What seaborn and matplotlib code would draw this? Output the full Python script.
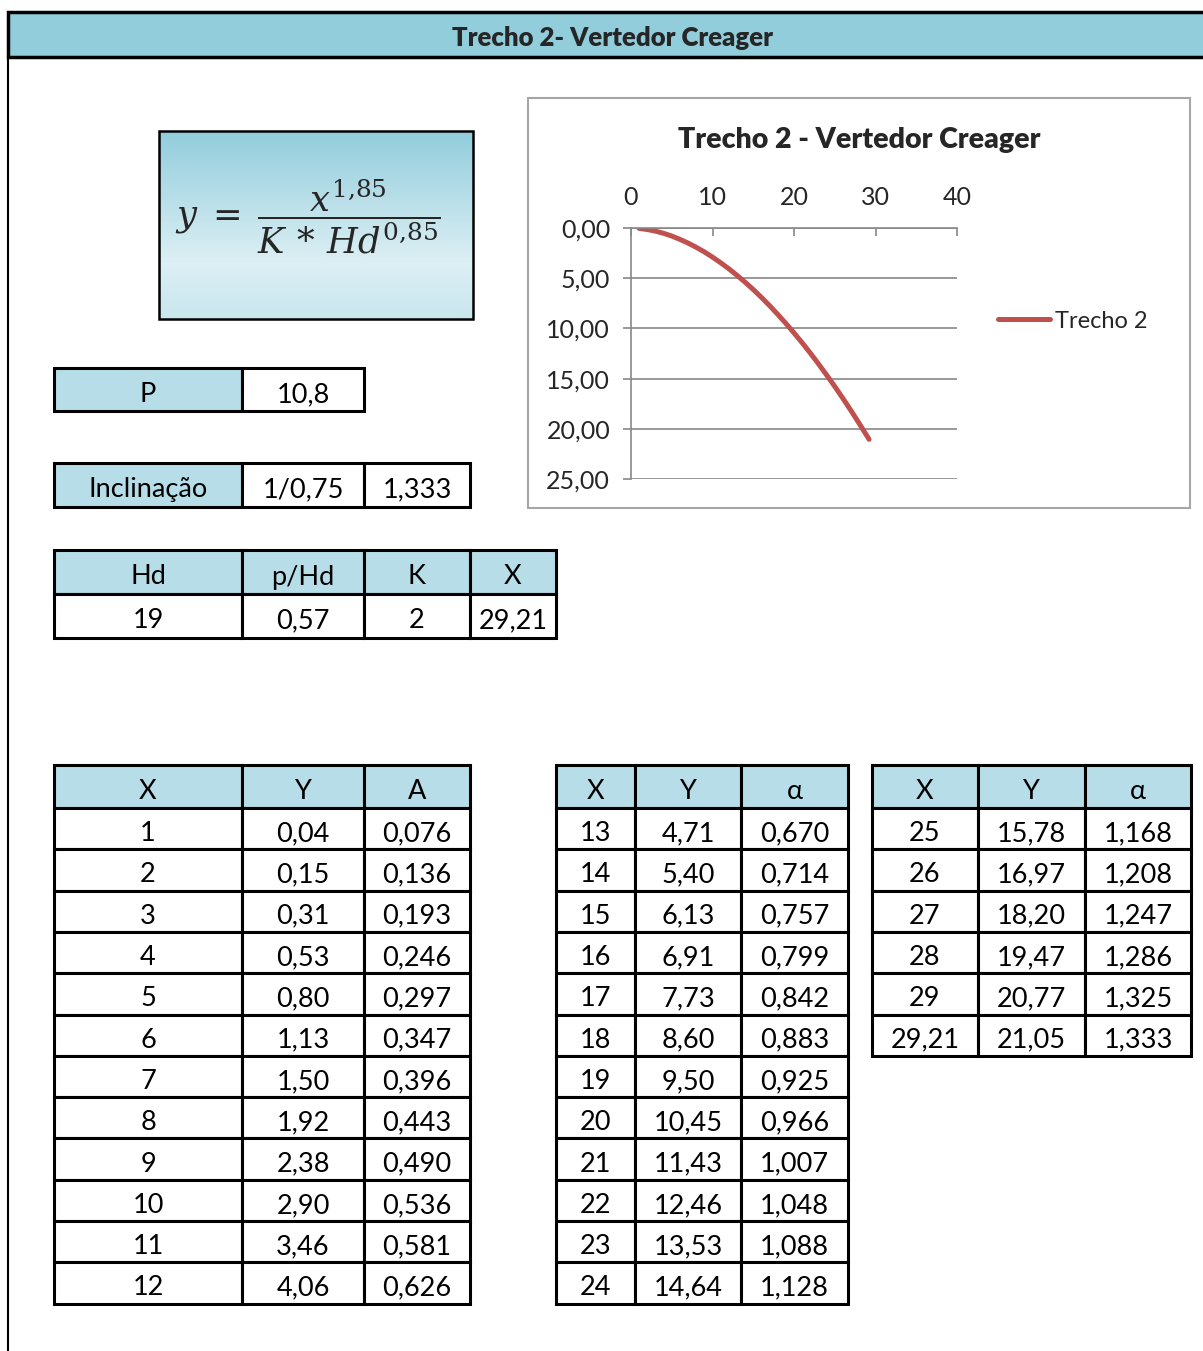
import matplotlib
matplotlib.use("Agg")
import matplotlib.pyplot as plt
import matplotlib.patches as patches
import numpy as np
import pandas as pd
import seaborn as sns

# values read from the sheet
x_vals_1 = ["1", "2", "3", "4", "5", "6", "7", "8", "9", "10", "11", "12"]
y_vals_1 = ["0,04", "0,15", "0,31", "0,53", "0,80", "1,13", "1,50", "1,92", "2,38", "2,90", "3,46", "4,06"]
a_vals_1 = ["0,076", "0,136", "0,193", "0,246", "0,297", "0,347", "0,396", "0,443", "0,490", "0,536", "0,581", "0,626"]

x_vals_2 = ["13", "14", "15", "16", "17", "18", "19", "20", "21", "22", "23", "24"]
y_vals_2 = ["4,71", "5,40", "6,13", "6,91", "7,73", "8,60", "9,50", "10,45", "11,43", "12,46", "13,53", "14,64"]
a_vals_2 = ["0,670", "0,714", "0,757", "0,799", "0,842", "0,883", "0,925", "0,966", "1,007", "1,048", "1,088", "1,128"]

x_vals_3 = ["25", "26", "27", "28", "29", "29,21"]
y_vals_3 = ["15,78", "16,97", "18,20", "19,47", "20,77", "21,05"]
a_vals_3 = ["1,168", "1,208", "1,247", "1,286", "1,325", "1,333"]

params_p = ["P", "10,8"]
params_incl = ["Inclinação", "1/0,75", "1,333"]
params_head = ["Hd", "p/Hd", "K", "X"]
params_row = ["19", "0,57", "2", "29,21"]

y_ticks = [0, 5, 10, 15, 20, 25]
x_ticks = [0, 10, 20, 30, 40]


def to_num(s):
    return float(s.replace(",", "."))


curve = pd.DataFrame({
    "X": [to_num(v) for v in x_vals_1 + x_vals_2 + x_vals_3],
    "Y": [to_num(v) for v in y_vals_1 + y_vals_2 + y_vals_3],
})

sns.set_theme(style="white")
plt.rcParams["font.family"] = ["Lato", "DejaVu Sans"]
plt.rcParams["mathtext.fontset"] = "dejavuserif"

W, H = 1203, 1351
fig = plt.figure(figsize=(W / 100, H / 100), dpi=100)
bg = fig.add_axes([0, 0, 1, 1])
bg.set_xlim(0, W)
bg.set_ylim(H, 0)
bg.axis("off")

HEAD = "#B7DEE8"
FS = 19.5


def cell(x0, x1, y0, y1, txt, fill="white"):
    bg.add_patch(patches.Rectangle((x0, y0), x1 - x0, y1 - y0, facecolor=fill,
                                   edgecolor="black", lw=2.2, zorder=2))
    bg.text((x0 + x1) / 2, (y0 + y1) / 2 + 5, txt, ha="center", va="center",
            fontsize=FS, color="black", zorder=3)


def table(cols, y_top, head, columns):
    h = 43
    row_h = 41.3
    for i, t in enumerate(head):
        cell(cols[i], cols[i + 1], y_top, y_top + h, t, HEAD)
    for r in range(len(columns[0])):
        y0 = y_top + h + r * row_h
        for i, col in enumerate(columns):
            cell(cols[i], cols[i + 1], y0, y0 + row_h, col[r])


# title bar
bg.add_patch(patches.Rectangle((8, 12), W, 45, facecolor="#92CDDC",
                               edgecolor="black", lw=2.5, zorder=2))
bg.text(612, 38, "Trecho 2- Vertedor Creager", ha="center", va="center",
        fontsize=18.5, fontweight="heavy", zorder=3)
bg.plot([8, 8], [57, H], color="black", lw=1.5, zorder=2)

# formula box with gradient
grad = np.concatenate([np.linspace(0, 1, 70), np.linspace(1, 0.75, 30)])
c_top = np.array(matplotlib.colors.to_rgb("#92CDDC"))
c_mid = np.array(matplotlib.colors.to_rgb("#DCEFF4"))
img = (c_top[None, :] * (1 - grad[:, None]) + c_mid[None, :] * grad[:, None])[:, None, :]
bg.imshow(img, extent=(159, 473, 319, 131), aspect="auto", zorder=1)
bg.add_patch(patches.Rectangle((159, 131), 314, 188, facecolor="none",
                               edgecolor="black", lw=1.8, zorder=2))
bg.text(308, 217, r"$y\;=\;\dfrac{x^{1{,}85}}{K\,*\,Hd^{0{,}85}}$", ha="center",
        va="center", fontsize=25.5, zorder=3)

# parameter tables
cell(54, 242, 368, 411, params_p[0], HEAD)
cell(242, 364, 368, 411, params_p[1])
cell(54, 242, 463, 507, params_incl[0], HEAD)
cell(242, 364, 463, 507, params_incl[1])
cell(364, 470, 463, 507, params_incl[2])
hd_cols = [54, 242, 364, 470, 556]
for i in range(4):
    cell(hd_cols[i], hd_cols[i + 1], 550, 594, params_head[i], HEAD)
    cell(hd_cols[i], hd_cols[i + 1], 594, 638, params_row[i])

# coordinate tables
table([54, 242, 364, 470], 765, ["X", "Y", "A"], [x_vals_1, y_vals_1, a_vals_1])
table([556, 635, 741, 848], 765, ["X", "Y", "α"], [x_vals_2, y_vals_2, a_vals_2])
table([872, 978, 1085, 1191], 765, ["X", "Y", "α"], [x_vals_3, y_vals_3, a_vals_3])

# chart frame
bg.add_patch(patches.Rectangle((528, 98), 662, 410, facecolor="white",
                               edgecolor="#A6A6A6", lw=1.5, zorder=1))
bg.text(859, 140, "Trecho 2 - Vertedor Creager", ha="center", va="center",
        fontsize=20.5, fontweight="heavy", zorder=3)

ax = fig.add_axes([631 / W, 1 - 479 / H, (957 - 631) / W, (479 - 228) / H])
ax.set_facecolor("none")
sns.lineplot(data=curve, x="X", y="Y", ax=ax, color="#C0504D", lw=3.6,
             sort=False, label="Trecho 2")
ax.set_xlim(0, 40)
ax.set_ylim(25, 0)
ax.xaxis.tick_top()
ax.set_xticks(x_ticks)
ax.set_yticks(y_ticks)
ax.set_yticklabels([f"{v:.2f}".replace(".", ",") for v in y_ticks])
ax.set_xlabel("")
ax.set_ylabel("")
ax.tick_params(axis="x", direction="in", length=6, width=1.2, color="#888888",
               pad=14, labelsize=18, top=True, bottom=False)
ax.tick_params(axis="y", direction="out", length=6, width=1.2, color="#888888",
               pad=9, labelsize=18, left=True)
ax.grid(axis="y", color="#888888", lw=1.2)
ax.grid(axis="x", visible=False)
for s in ["right", "bottom"]:
    ax.spines[s].set_visible(False)
for s in ["left", "top"]:
    ax.spines[s].set_color("#888888")
    ax.spines[s].set_linewidth(1.2)
ax.legend(loc="center left", bbox_to_anchor=(998 / W, 1 - 321 / H),
          bbox_transform=fig.transFigure, frameon=False, fontsize=17,
          handlelength=2.2, handletextpad=0.2, borderpad=0, borderaxespad=0)

fig.savefig("out.png", dpi=100)
